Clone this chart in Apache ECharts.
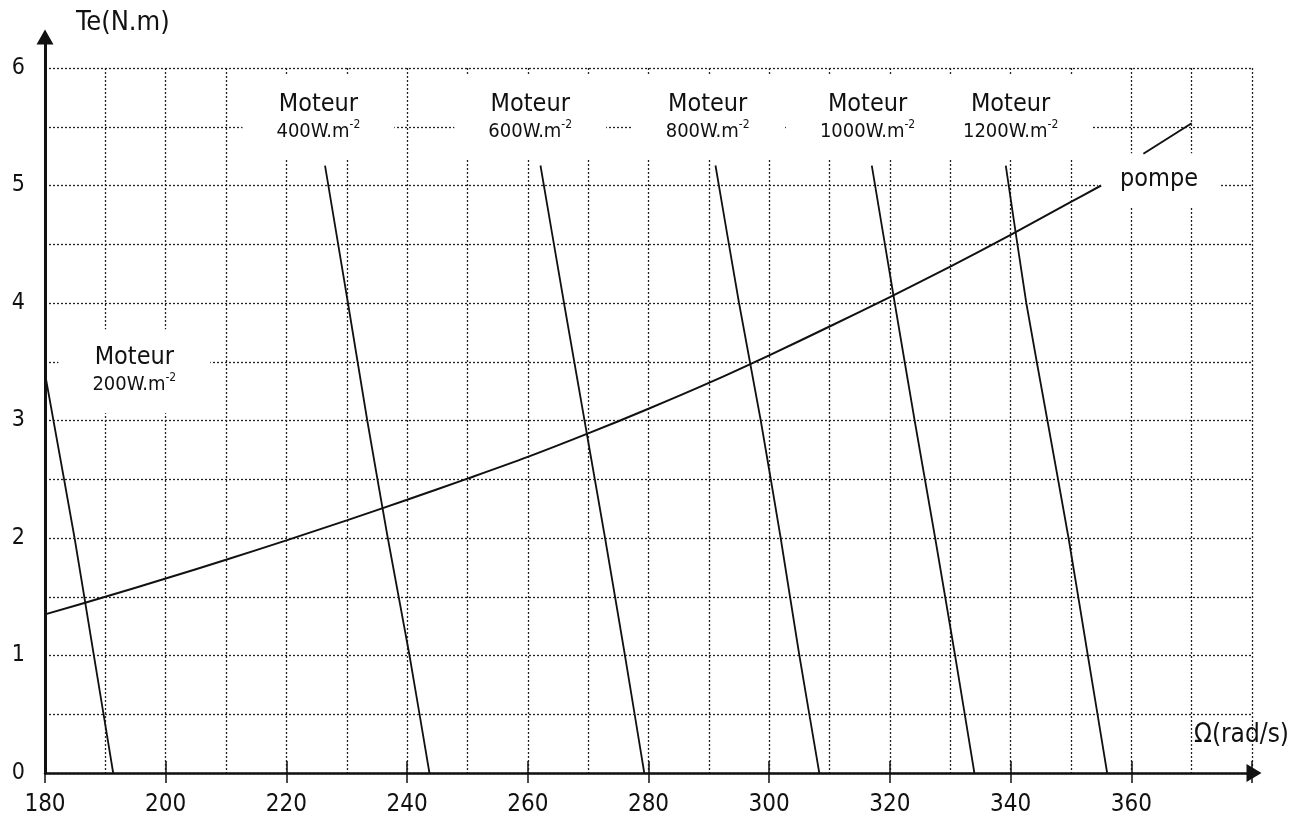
<!DOCTYPE html>
<html><head><meta charset="utf-8">
<script src="https://cdn.jsdelivr.net/npm/echarts@6/dist/echarts.min.js"></script>
<style>html,body{margin:0;padding:0;background:#fff}#c{width:1296px;height:817px}</style>
</head><body><div id="c"></div>
<script>
// ---- data ----
const xTickLabels = [180, 200, 220, 240, 260, 280, 300, 320, 340, 360];
const yTickLabels = [0, 1, 2, 3, 4, 5, 6];
const pompe = [[180,1.35],[190,1.50],[200,1.655],[210,1.815],[220,1.98],[230,2.15],[240,2.325],[250,2.505],[260,2.69],[270,2.89],[280,3.10],[290,3.32],[300,3.555],[310,3.80],[320,4.05],[330,4.31],[340,4.58],[350,4.86],[355,5.0]];
const pompeSuite = [[362,5.27],[370,5.53]];
const moteur200 = [[180,3.40],[181.4,3.0],[184.9,2.0],[188.1,1.0],[191.3,0]];
const moteur400 = [[226.4,5.17],[230.2,4.0],[233.4,3.0],[236.8,2.0],[240.4,1.0],[243.7,0]];
const moteur600 = [[262.1,5.17],[266.0,4.0],[269.4,3.0],[272.8,2.0],[276.1,1.0],[279.3,0]];
const moteur800 = [[291.1,5.17],[295.0,4.0],[298.6,3.0],[301.9,2.0],[305.0,1.0],[308.3,0]];
const moteur1000 = [[317.0,5.17],[320.8,4.0],[324.1,3.0],[327.5,2.0],[330.8,1.0],[334.0,0]];
const moteur1200 = [[339.2,5.17],[342.6,4.0],[346.1,3.0],[349.6,2.0],[352.8,1.0],[356.0,0]];
const irradiances = ['200', '400', '600', '800', '1000', '1200'];
const moteurs = [moteur200, moteur400, moteur600, moteur800, moteur1000, moteur1200];

// ---- presentation ----
const FONT = '"DejaVu Sans Condensed", "DejaVu Sans", sans-serif';
const INK = '#111';
const labelAnchors = [[194.8,3.42],[225.3,5.575],[260.4,5.575],[289.8,5.575],[316.3,5.575],[340.0,5.575]];
const pompeAnchor = [364.6, 5.05];

const chart = echarts.init(document.getElementById('c'));
const gridLine = { show: true, lineStyle: { color: '#222', width: 1.3, type: [2, 2] } };

const series = [];
moteurs.forEach((d, i) => {
  series.push({ type: 'line', name: 'Moteur ' + irradiances[i], data: d, showSymbol: false, smooth: 0.15,
    lineStyle: { color: INK, width: 1.8 }, z: 5, xAxisIndex: 0, yAxisIndex: 0 });
});
series.push({ type: 'line', name: 'pompe', data: pompe, showSymbol: false, smooth: 0.3,
  lineStyle: { color: INK, width: 2 }, z: 5, xAxisIndex: 0, yAxisIndex: 0 });
series.push({ type: 'line', name: 'pompe2', data: pompeSuite, showSymbol: false,
  lineStyle: { color: INK, width: 2 }, z: 5, xAxisIndex: 0, yAxisIndex: 0 });
series.push({ type: 'scatter', xAxisIndex: 0, yAxisIndex: 0, symbolSize: 0, z: 4, silent: true,
  itemStyle: { opacity: 1 },
  data: irradiances.map((irr, i) => ({ value: labelAnchors[i], name: irr })),
  label: { show: true, position: 'inside', fontFamily: FONT, color: INK, opacity: 1,
    backgroundColor: '#fff', padding: [14, 34, 16, 34],
    formatter: p => '{a|Moteur}\n{b|' + p.name + 'W.m}{c|-2}',
    rich: {
      a: { fontSize: 25, lineHeight: 29, fontFamily: FONT, color: INK },
      b: { fontSize: 20, lineHeight: 25, fontFamily: FONT, color: INK },
      c: { fontSize: 12, verticalAlign: 'top', fontFamily: FONT, color: INK }
    } } });
series.push({ type: 'scatter', xAxisIndex: 0, yAxisIndex: 0, symbolSize: 0, z: 4, silent: true,
  itemStyle: { opacity: 1 },
  data: [{ value: pompeAnchor, name: 'pompe' }],
  label: { show: true, position: 'inside', formatter: '{b}', fontSize: 25, fontFamily: FONT, color: INK, opacity: 1,
    backgroundColor: '#fff', padding: [14, 22, 14, 22] } });

chart.setOption({
  animation: false,
  backgroundColor: '#fff',
  title: [
    { text: 'Te(N.m)', left: 71, top: 4, textStyle: { fontSize: 27, fontWeight: 'normal', fontFamily: FONT, color: INK } },
    { text: 'Ω(rad/s)', left: 1189, top: 717, textStyle: { fontSize: 26, fontWeight: 'normal', fontFamily: FONT, color: INK } }
  ],
  grid: [
    { left: 45, right: 44, top: 68, bottom: 44 },
    { left: 45, right: 42, top: 37, bottom: 44 }
  ],
  xAxis: [
    { type: 'value', gridIndex: 0, position: 'bottom', min: 180, max: 380, interval: 10,
      axisLine: { show: false }, axisTick: { show: false }, splitLine: gridLine,
      axisLabel: { fontSize: 24, fontFamily: FONT, color: INK, margin: 20,
        formatter: v => xTickLabels.includes(v) ? String(v) : '' } },
    { type: 'value', gridIndex: 0, position: 'bottom', min: 180, max: 380, interval: 20,
      axisLine: { show: false }, splitLine: { show: false }, axisLabel: { show: false },
      axisTick: { show: true, inside: false, length: 10, lineStyle: { color: INK, width: 1.5 } } },
    { type: 'value', gridIndex: 0, position: 'bottom', min: 180, max: 380, interval: 20,
      axisLine: { show: false }, splitLine: { show: false }, axisLabel: { show: false },
      axisTick: { show: true, inside: true, length: 12, lineStyle: { color: INK, width: 1.5 } } },
    { type: 'value', gridIndex: 1, position: 'bottom', min: 0, max: 1, axisLabel: { show: false }, axisTick: { show: false }, splitLine: { show: false },
      axisLine: { show: true, onZero: false, symbol: ['none', 'triangle'], symbolSize: [18, 15], lineStyle: { color: INK, width: 2.5 } } }
  ],
  yAxis: [
    { type: 'value', gridIndex: 0, position: 'left', min: 0, max: 6, interval: 0.5,
      axisLine: { show: false }, axisTick: { show: false }, splitLine: gridLine,
      axisLabel: { fontSize: 23, fontFamily: FONT, color: INK, margin: 20,
        formatter: v => yTickLabels.includes(v) ? String(v) : '' } },
    { type: 'value', gridIndex: 1, position: 'left', min: 0, max: 1, axisLabel: { show: false }, axisTick: { show: false }, splitLine: { show: false },
      axisLine: { show: true, onZero: false, symbol: ['none', 'triangle'], symbolSize: [17, 15], lineStyle: { color: INK, width: 3 } } }
  ],
  series: series
});
</script></body></html>
